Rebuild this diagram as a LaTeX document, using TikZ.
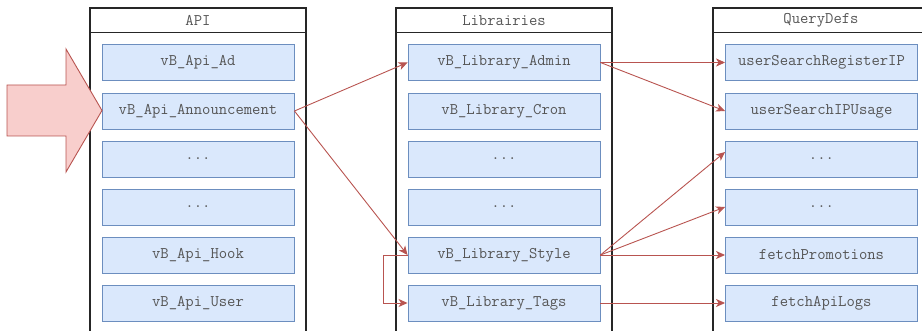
\documentclass[tikz,border=0pt]{standalone}
\usepackage{xcolor}
\usetikzlibrary{arrows.meta, positioning, calc}
\definecolor{itemfill}{RGB}{218,232,252}
\definecolor{itemline}{RGB}{108,142,191}
\definecolor{linkred}{RGB}{184,84,80}
\definecolor{arrowpink}{RGB}{248,206,204}
\definecolor{labelgray}{RGB}{85,85,85}

\begin{document}
\begin{tikzpicture}[x=1pt, y=-1pt,
    item/.style={draw=itemline, fill=itemfill, line width=0.9pt,
                 minimum width=192pt, minimum height=36pt, inner sep=0pt,
                 font=\ttfamily\fontsize{16.2}{18}\selectfont, text=labelgray},
    head/.style={font=\ttfamily\fontsize{16.2}{18}\selectfont, text=labelgray},
    box/.style={draw=black!85, line width=1.1pt},
    link/.style={draw=linkred, line width=0.9pt,
                 -{Stealth[length=9pt, width=8pt, inset=2.5pt]}}]
    \useasboundingbox (0,0) rectangle (922,331);

    % ---- CONTAINERS ----
    \draw[box] (90,340) -- (90,8) -- (306,8) -- (306,340);
    \draw[box] (90,32.5) -- (306,32.5);
    \draw[box] (396,340) -- (396,8) -- (612,8) -- (612,340);
    \draw[box] (396,32.5) -- (612,32.5);
    \draw[box] (713,340) -- (713,8) -- (935,8);
    \draw[box] (713,32.5) -- (935,32.5);
    \node[head] (hapi) at (198,20.5) {API};
    \node[head] (hlib) at (504,20.5) {Librairies};
    \node[head] (hqd)  at (821,20.5) {QueryDefs};

    % ---- API ----
    \node[item] (ad)    at (198,62.5) {vB\_Api\_Ad};
    \node[item] (annc)  at (198,111)  {vB\_Api\_Announcement};
    \node[item] (api3)  at (198,159)  {...};
    \node[item] (api4)  at (198,207)  {...};
    \node[item] (hook)  at (198,255)  {vB\_Api\_Hook};
    \node[item] (user)  at (198,303)  {vB\_Api\_User};

    % ---- LIBRAIRIES ----
    \node[item] (admin) at (504,62.5) {vB\_Library\_Admin};
    \node[item] (cron)  at (504,111)  {vB\_Library\_Cron};
    \node[item] (lib3)  at (504,159)  {...};
    \node[item] (lib4)  at (504,207)  {...};
    \node[item] (style) at (504,255)  {vB\_Library\_Style};
    \node[item] (tags)  at (504,303)  {vB\_Library\_Tags};

    % ---- QUERYDEFS ----
    \node[item] (regip) at (821.5,62.5) {userSearchRegisterIP};
    \node[item] (ipuse) at (821.5,111)  {userSearchIPUsage};
    \node[item] (qd3)   at (821.5,159)  {...};
    \node[item] (qd4)   at (821.5,207)  {...};
    \node[item] (promo) at (821.5,255)  {fetchPromotions};
    \node[item] (logs)  at (821.5,303)  {fetchApiLogs};

    % ---- FRECCIA d'ingresso ----
    \draw[draw=linkred, fill=arrowpink, line width=0.9pt]
        (7,85) -- (66,85) -- (66,49) -- (102,110.5) -- (66,172)
        -- (66,136) -- (7,136) -- cycle;

    % ---- COLLEGAMENTI ----
    \draw[link] (annc.east) -- (admin.west);
    \draw[link] (annc.east) -- (style.west);
    \draw[link] (style.west) -- ++(-24,0) |- (tags.west);
    \draw[link] (admin.east) -- (regip.west);
    \draw[link] (admin.east) -- (ipuse.west);
    \draw[link] (style.east) -- ([yshift=7pt]qd3.west);
    \draw[link] (style.east) -- (qd4.west);
    \draw[link] (style.east) -- (promo.west);
    \draw[link] (tags.east) -- (logs.west);
\end{tikzpicture}
\end{document}
